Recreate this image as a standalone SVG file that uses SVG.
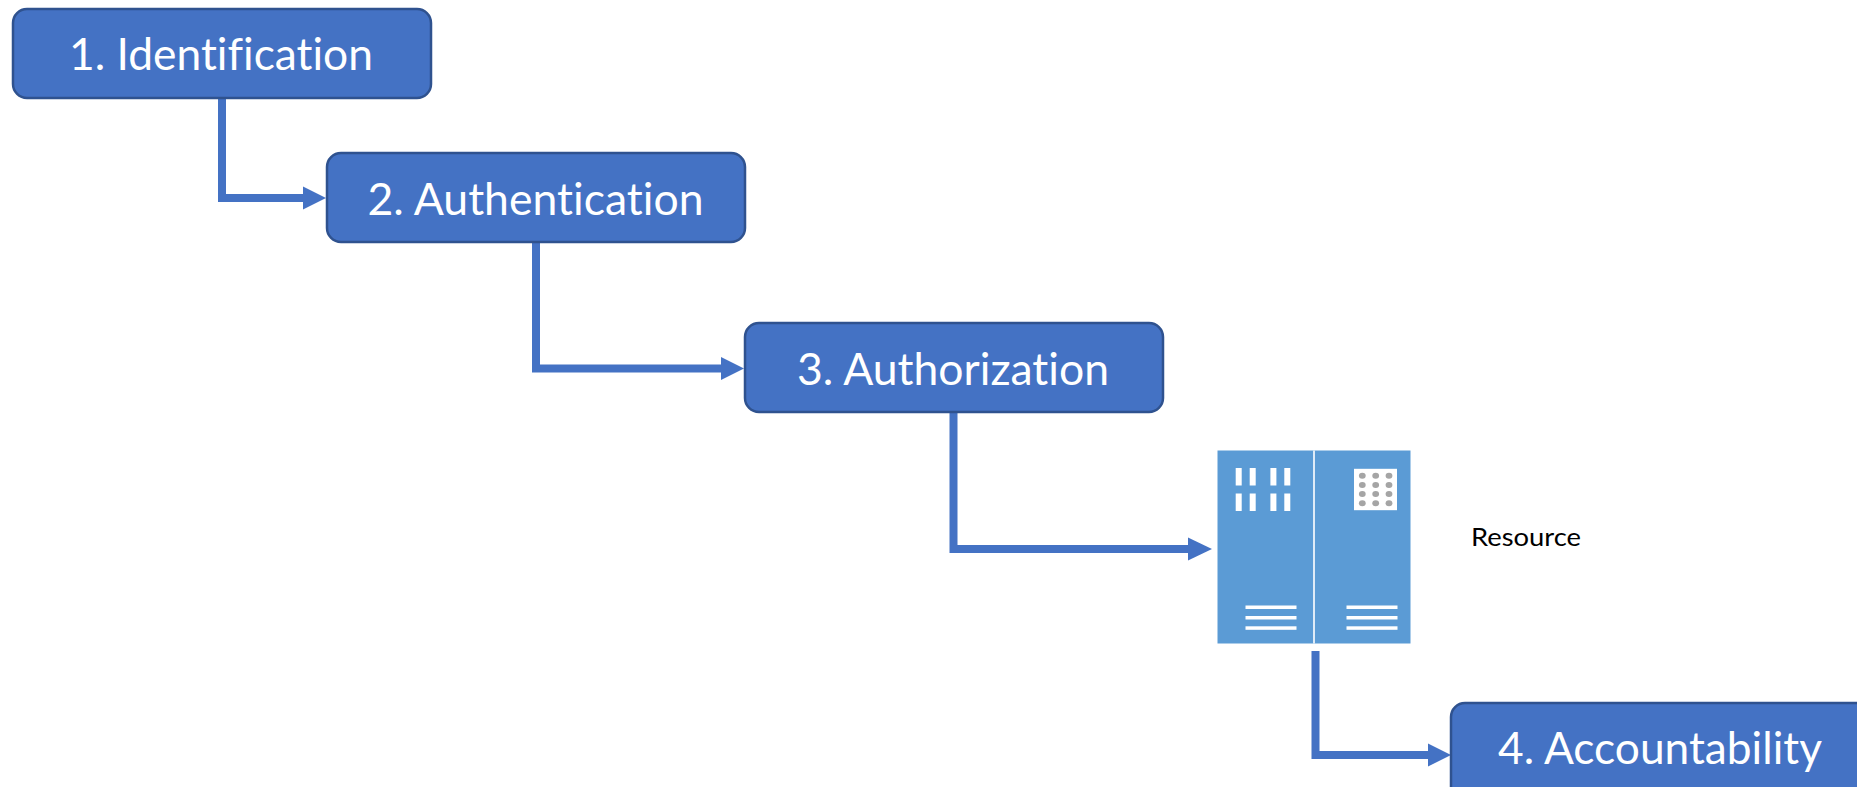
<svg xmlns="http://www.w3.org/2000/svg" width="1857" height="787" viewBox="0 0 1857 787">
<style>
.box{fill:#4472C4;stroke:#2F528F;stroke-width:2.500}
text{font-family:"Lato","Open Sans",sans-serif;font-variant-ligatures:none}
.lbl{font-size:45px;fill:#fff}
.cn{fill:none;stroke:#4472C4;stroke-width:8;stroke-linejoin:miter}
.hd{fill:#4472C4}
.w{fill:#fff}
.dot{fill:#A5A5A5}
</style>
<rect width="1857" height="787" fill="#fff"/>
<g id="connectors">
<path class="cn" d="M222 98V198H304"/><polygon class="hd" points="303,186.500 326,198 303,209.500"/>
<path class="cn" d="M536 242V368.500H722"/><polygon class="hd" points="721,357 744,368.500 721,380"/>
<path class="cn" d="M953.500 412V549H1190"/><polygon class="hd" points="1188,537.500 1212,549 1188,560.500"/>
<path class="cn" d="M1315.500 651V755H1429"/><polygon class="hd" points="1428,743.500 1451,755 1428,766.500"/>
</g>
<g id="node1"><rect class="box" x="13" y="9" width="418" height="89" rx="14"/><text class="lbl" x="69" y="70" textLength="304" lengthAdjust="spacingAndGlyphs">1. Identification</text></g>
<g id="node2"><rect class="box" x="327" y="153" width="418" height="89" rx="14"/><text class="lbl" x="367.500" y="215" textLength="336" lengthAdjust="spacingAndGlyphs">2. Authentication</text></g>
<g id="node3"><rect class="box" x="745" y="323" width="418" height="89" rx="14"/><text class="lbl" x="797" y="385" textLength="312" lengthAdjust="spacingAndGlyphs">3. Authorization</text></g>
<g id="node4"><rect class="box" x="1451" y="703" width="430" height="100" rx="14"/><text class="lbl" x="1498" y="764" textLength="324" lengthAdjust="spacingAndGlyphs">4. Accountability</text></g>
<g id="resource">
<rect x="1217.500" y="450.500" width="193" height="193" fill="#5B9BD5"/>
<rect class="w" x="1313.200" y="450.500" width="1.600" height="193"/>
<g class="w">
<rect x="1235.700" y="468" width="6" height="17.500"/><rect x="1249.700" y="468" width="6" height="17.500"/><rect x="1270.400" y="468" width="6" height="17.500"/><rect x="1284.300" y="468" width="6" height="17.500"/>
<rect x="1235.700" y="493.500" width="6" height="17.500"/><rect x="1249.700" y="493.500" width="6" height="17.500"/><rect x="1270.400" y="493.500" width="6" height="17.500"/><rect x="1284.300" y="493.500" width="6" height="17.500"/>
<rect x="1245.500" y="605.500" width="51" height="3.500"/><rect x="1245.500" y="616" width="51" height="3.500"/><rect x="1245.500" y="626.300" width="51" height="3.500"/>
<rect x="1346.500" y="605.500" width="51" height="3.500"/><rect x="1346.500" y="616" width="51" height="3.500"/><rect x="1346.500" y="626.300" width="51" height="3.500"/>
<rect x="1354" y="468.800" width="43" height="41.400"/>
</g>
<g class="dot">
<ellipse cx="1362.300" cy="475.800" rx="3.400" ry="3"/><ellipse cx="1375.700" cy="475.800" rx="3.400" ry="3"/><ellipse cx="1389" cy="475.800" rx="3.400" ry="3"/>
<ellipse cx="1362.300" cy="485" rx="3.400" ry="3"/><ellipse cx="1375.700" cy="485" rx="3.400" ry="3"/><ellipse cx="1389" cy="485" rx="3.400" ry="3"/>
<ellipse cx="1362.300" cy="494" rx="3.400" ry="3"/><ellipse cx="1375.700" cy="494" rx="3.400" ry="3"/><ellipse cx="1389" cy="494" rx="3.400" ry="3"/>
<ellipse cx="1362.300" cy="503.200" rx="3.400" ry="3"/><ellipse cx="1375.700" cy="503.200" rx="3.400" ry="3"/><ellipse cx="1389" cy="503.200" rx="3.400" ry="3"/>
</g>
<text x="1471" y="546" font-size="25" fill="#000" textLength="110" lengthAdjust="spacingAndGlyphs">Resource</text>
</g>
</svg>
